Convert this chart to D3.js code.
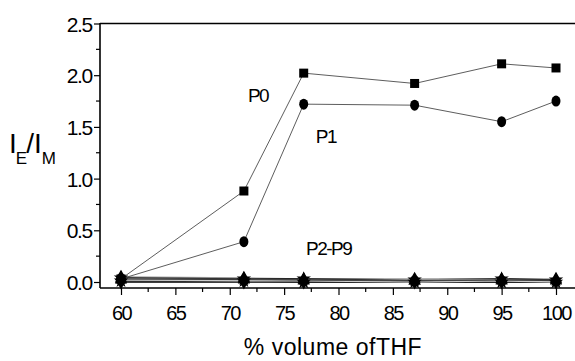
<!DOCTYPE html>
<html><head><meta charset="utf-8">
<script src="https://cdn.jsdelivr.net/npm/d3@7"></script>
<style>body{margin:0;background:#fff}svg{display:block}text{font-family:"Liberation Sans",Arial,sans-serif;fill:#000}</style>
</head><body><svg id="c" width="575" height="361"></svg>
<script>
const thf = [60, 71.3, 76.8, 87, 95, 100];
const p0 = [0.03, 0.88, 2.02, 1.92, 2.11, 2.07];
const p1 = [0.03, 0.39, 1.72, 1.71, 1.55, 1.75];
const p2to9 = [
  [0.05, 0.04, 0.03, 0.03, 0.03, 0.03],
  [0.04, 0.03, 0.03, 0.02, 0.03, 0.02],
  [0.03, 0.02, 0.01, 0.02, 0.02, 0.01],
  [0.02, 0.02, 0.01, 0.01, 0.01, 0.01],
  [0.01, 0.01, 0.0, 0.0, 0.0, 0.0],
  [0.0, 0.0, 0.0, 0.0, 0.0, 0.0],
  [0.02, 0.01, 0.01, 0.0, 0.01, 0.0],
  [0.03, 0.03, 0.02, 0.01, 0.02, 0.02]
];
const p2Colors = ["#999","#000","#bbb","#000","#777","#000","#ccc","#444"];
const p2Symbols = ["triangle","star","circle","triangle","star","diamond","circle","triangle"];
const xTicks = [60,65,70,75,80,85,90,95,100];
const yTicks = [0,0.5,1.0,1.5,2.0,2.5];
const labels = [{t:"P0",x:72.6,y:1.81},{t:"P1",x:78.85,y:1.41},{t:"P2-P9",x:79.1,y:0.33}];

const svg = d3.select("#c");
const x = d3.scaleLinear().domain([60,100]).range([121,556]);
const y = d3.scaleLinear().domain([0,2.5]).range([282,23.5]);
const axisX0 = 100, axisY0 = 288;
const ff = "Liberation Sans, Arial, sans-serif";

const gy = svg.append("g").attr("transform",`translate(${axisX0},0)`)
  .call(d3.axisLeft(y).tickValues(yTicks).tickFormat(d3.format(".1f")).tickSize(6).tickPadding(2));
gy.select(".domain").remove();
gy.selectAll("text").attr("font-size",21).attr("letter-spacing",-1.3).attr("font-family",ff).attr("dy","0.36em");
gy.selectAll(".tick line").attr("stroke-width",1.2);
svg.append("g").selectAll("line").data(d3.range(0.25,2.5,0.5)).join("line")
  .attr("x1",axisX0-4).attr("x2",axisX0).attr("y1",d=>y(d)).attr("y2",d=>y(d)).attr("stroke","#000").attr("stroke-width",1.2);
// frame lines: top, left, bottom
const frame = svg.append("g").attr("stroke","#000").attr("stroke-width",1.6);
frame.append("line").attr("x1",axisX0).attr("x2",575).attr("y1",23.5).attr("y2",23.5);
frame.append("line").attr("x1",axisX0).attr("x2",axisX0).attr("y1",23).attr("y2",axisY0);
frame.append("line").attr("x1",axisX0).attr("x2",575).attr("y1",axisY0).attr("y2",axisY0);

const gx = svg.append("g").attr("transform",`translate(0,${axisY0})`)
  .call(d3.axisBottom(x).tickValues(xTicks).tickFormat(d3.format("d")).tickSize(7).tickPadding(11));
gx.select(".domain").remove();
gx.selectAll("text").attr("font-size",20).attr("letter-spacing",-1.5).attr("font-family",ff);
gx.selectAll(".tick line").attr("stroke-width",1.2);
svg.append("g").selectAll("line").data(d3.range(62.5,101,5)).join("line")
  .attr("x1",d=>x(d)).attr("x2",d=>x(d)).attr("y1",axisY0).attr("y2",axisY0+4).attr("stroke","#000").attr("stroke-width",1.2);

svg.append("text").attr("x",333).attr("y",355).attr("text-anchor","middle").attr("font-size",23).attr("letter-spacing",0.5)
  .text("% volume ofTHF");
const yl = svg.append("text").attr("x",9).attr("y",153).attr("font-size",28);
yl.append("tspan").text("I");
yl.append("tspan").attr("font-size",17).attr("dy",11).attr("dx",-1).text("E");
yl.append("tspan").attr("dy",-11).attr("dx",-1).text("/I");
yl.append("tspan").attr("font-size",17).attr("dy",11).attr("dx",0).text("M");

const line = d3.line().x((d,i)=>x(thf[i])).y(d=>y(d));
const symMap = {triangle:d3.symbolTriangle, star:d3.symbolStar, circle:d3.symbolCircle, diamond:d3.symbolDiamond};

p2to9.forEach((s,k)=>{
  svg.append("path").datum(s).attr("d",line).attr("fill","none").attr("stroke",p2Colors[k]).attr("stroke-width",1.3);
});
p2to9.forEach((s,k)=>{
  svg.append("g").selectAll("path").data(s).join("path")
    .attr("transform",(d,i)=>`translate(${x(thf[i])},${y(d)})`)
    .attr("d",d3.symbol().type(symMap[p2Symbols[k]]).size(65)).attr("fill","#000");
});

svg.append("path").datum(p0).attr("d",line).attr("fill","none").attr("stroke","#333").attr("stroke-width",0.8);
svg.append("path").datum(p1).attr("d",line).attr("fill","none").attr("stroke","#333").attr("stroke-width",0.8);
svg.append("g").selectAll("rect").data(p0).join("rect")
  .attr("x",(d,i)=>x(thf[i])-4.5).attr("y",d=>y(d)-4.5).attr("width",9).attr("height",9).attr("fill","#000");
svg.append("g").selectAll("ellipse").data(p1).join("ellipse")
  .attr("cx",(d,i)=>x(thf[i])).attr("cy",d=>y(d)).attr("rx",4.5).attr("ry",5.5).attr("fill","#000");

svg.append("g").selectAll("text").data(labels).join("text")
  .attr("x",d=>x(d.x)).attr("y",d=>y(d.y)).attr("font-size",19).attr("letter-spacing",-1.5).attr("text-anchor","middle")
  .attr("dy","0.36em").text(d=>d.t);
</script></body></html>
